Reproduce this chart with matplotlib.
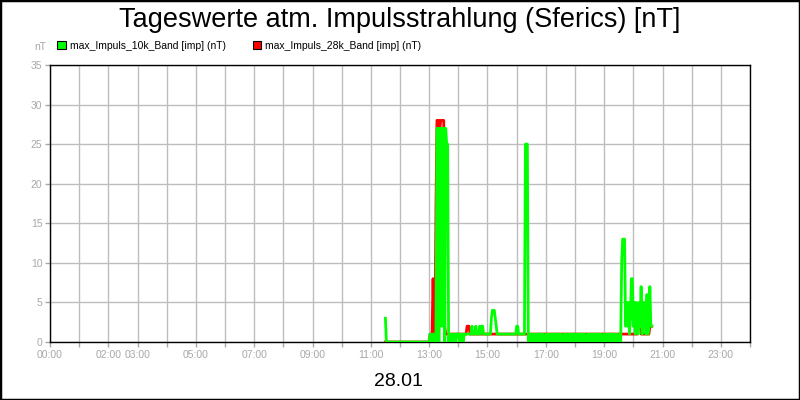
import numpy as np
import matplotlib
matplotlib.use("Agg")
from matplotlib import pyplot as plt
from matplotlib.patches import Patch, Rectangle

plt.rcParams['font.family'] = ['Liberation Sans', 'DejaVu Sans']

# samples every 2 minutes, starting 11:30 on 28.01
start_h = 11.5
step_h = 2 / 60

# max_Impuls_10k_Band [imp] (nT)
imp_10k = (
    [3] + [0] * 14                                             # 11:30 - 11:58
    + [0] * 30                                                 # 12:00 - 12:58
    + [0, 1, 1, 0, 1, 1, 0, 0, 27, 27, 0, 27, 27, 2, 27,
       27, 0, 27, 25, 25, 0, 1, 0, 1, 1, 0, 1, 0, 1, 1]        # 13:00 - 13:58
    + [1, 0, 1, 0, 1, 0, 1, 1, 1, 1, 1, 1, 1, 1, 2,
       1, 1, 1, 2, 1, 1, 1, 2, 1, 2, 2, 1, 1, 1, 1]            # 14:00 - 14:58
    + [1, 1, 1, 1, 3, 4, 4, 4, 3, 2] + [1] * 20                # 15:00 - 15:58
    + [2, 2, 1, 1, 1, 1, 1, 1, 1, 25, 25, 25]                  # 16:00 - 16:22
    + [int(c) for c in
       "0101101010" "1101010010" "1011010101" "1010100101"
       "1010101101" "0101011010" "0101101010" "1101010010"
       "1011010101" "010"]                                     # 16:24 - 19:28
    + [0, 1, 0, 10, 13, 13, 13, 2, 5, 2, 5, 1, 3, 8, 8, 2, 5, 1,
       5, 3, 1, 5, 2, 7, 1, 5, 2, 5, 1, 6, 1, 2, 7, 2, 2]       # 19:30 - 20:38
)

# max_Impuls_28k_Band [imp] (nT)
imp_28k = (
    [0] * 15
    + [0] * 30
    + [0, 1, 0, 1, 8, 1, 1, 17, 28, 28, 28, 27, 28, 28, 28,
       28, 2, 1, 1, 1, 1, 1, 1, 1, 1, 1, 1, 1, 1, 1]
    + [1] * 9 + [2, 2, 2] + [1] * 18
    + [1] * 30
    + [1] * 12
    + [1] * 93
    + [1] * 20 + [3, 3, 3] + [1] * 9 + [2, 2, 2]
)

hour_ticks = list(range(25))
hour_labels = {0: "00:00", 2: "02:00", 3: "03:00", 5: "05:00", 7: "07:00",
               9: "09:00", 11: "11:00", 13: "13:00", 15: "15:00",
               17: "17:00", 19: "19:00", 21: "21:00", 23: "23:00"}
y_ticks = [0, 5, 10, 15, 20, 25, 30, 35]

t_10k = start_h + step_h * np.arange(len(imp_10k))
t_28k = start_h + step_h * np.arange(len(imp_28k))

fig = plt.figure(figsize=(8, 4), dpi=100)
ax = fig.add_axes([0.0625, 0.145, 0.875, 0.6925])

ax.plot(t_28k, imp_28k, color='#ff0000', lw=2, zorder=3)
ax.plot(t_10k, imp_10k, color='#00ff00', lw=2, zorder=4)

ax.set_xlim(0, 24)
ax.set_ylim(0, 35)
ax.set_xticks(hour_ticks)
ax.set_xticklabels([hour_labels.get(h, "") for h in hour_ticks])
ax.set_yticks(y_ticks)
ax.grid(True, color='#bdbdbd', lw=1, zorder=0)
ax.set_axisbelow(True)
ax.tick_params(colors='#a8a8a8', labelsize=7.5, length=3.5, width=1, pad=2)
for s in ax.spines.values():
    s.set_color('black')
    s.set_linewidth(1)

fig.suptitle("Tageswerte atm. Impulsstrahlung (Sferics) [nT]",
             x=0.5, y=0.983, fontsize=19.5, va='top')
fig.text(0.05, 0.883, "nT", color='#a8a8a8', fontsize=7.5, ha='center', va='center')
fig.text(0.4975, 0.047, "28.01", fontsize=14, ha='center', va='center')

handles = [Patch(facecolor='#00ff00', edgecolor='black', lw=0.8),
           Patch(facecolor='#ff0000', edgecolor='black', lw=0.8)]
fig.legend(handles, ["max_Impuls_10k_Band [imp] (nT)", "max_Impuls_28k_Band [imp] (nT)"],
           loc='center left', bbox_to_anchor=(0.0715, 0.886), ncol=2, frameon=False,
           fontsize=7.5, handlelength=0.8, handleheight=0.8, handletextpad=0.4,
           columnspacing=2.6, borderpad=0, borderaxespad=0)

fig.patches.append(Rectangle((0, 0), 1, 1, transform=fig.transFigure,
                             fill=False, edgecolor='black', lw=2.5))

fig.savefig("out.png", dpi=100)
